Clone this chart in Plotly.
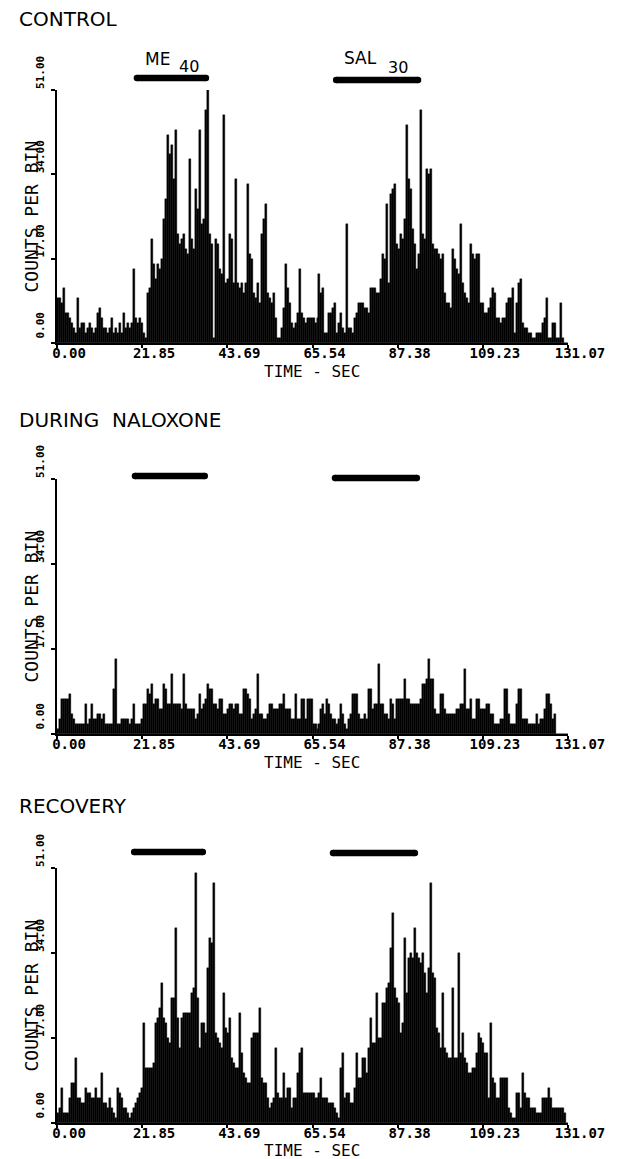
import plotly.graph_objects as go

# ---------------- data ----------------
BIN_WIDTH = 0.512          # seconds per bin (256 bins over 131.07 s)
X_MAX = 131.07
X_TICKS = [0, 21.845, 43.69, 65.535, 87.38, 109.225, 131.07]
X_TICK_TEXT = ["0.00", "21.85", "43.69", "65.54", "87.38", "109.23", "131.07"]
Y_TICKS = [0, 17, 34, 51]
Y_TICK_TEXT = ["0.00", "17.00", "34.00", "51.00"]

panel_titles = ["CONTROL", "DURING  NALOXONE", "RECOVERY"]

control = [
    9, 9, 8, 11, 6, 6, 5, 4, 3, 2,
    9, 3, 4, 4, 2, 3, 4, 3, 2, 3,
    6, 7, 5, 3, 3, 2, 3, 5, 2, 3,
    2, 4, 2, 6, 3, 4, 3, 4, 15, 5,
    4, 5, 4, 2, 1, 10, 11, 21, 16, 13,
    16, 15, 17, 25, 29, 42, 38, 40, 33, 43,
    22, 20, 21, 22, 19, 18, 37, 21, 19, 31,
    27, 43, 24, 25, 47, 51, 22, 20, 1, 21,
    20, 15, 14, 46, 12, 13, 22, 21, 12, 33,
    12, 11, 12, 10, 12, 32, 18, 17, 10, 9,
    12, 8, 22, 25, 28, 10, 9, 8, 10, 5,
    1, 1, 3, 7, 16, 11, 8, 4, 3, 4,
    6, 15, 6, 5, 4, 5, 5, 5, 5, 4,
    5, 14, 10, 11, 2, 2, 6, 6, 7, 8,
    2, 4, 6, 3, 2, 24, 3, 3, 2, 5,
    6, 8, 8, 8, 7, 7, 6, 11, 11, 11,
    10, 10, 13, 18, 17, 28, 12, 30, 31, 32,
    20, 19, 22, 21, 25, 44, 33, 31, 23, 20,
    15, 18, 47, 22, 21, 35, 34, 35, 20, 19,
    19, 18, 17, 18, 10, 8, 8, 7, 19, 17,
    15, 14, 24, 12, 10, 9, 8, 20, 18, 17,
    18, 18, 8, 8, 6, 6, 7, 9, 11, 10,
    5, 5, 4, 5, 5, 8, 9, 9, 11, 2,
    8, 12, 13, 4, 3, 3, 2, 2, 1, 1,
    2, 2, 2, 4, 5, 9, 1, 1, 4, 4,
    1, 1, 8, 1, 0, 0,
]

naloxone = [
    1, 3, 7, 7, 7, 7, 8, 4, 3, 2,
    2, 2, 2, 2, 6, 2, 3, 6, 3, 3,
    4, 4, 3, 4, 2, 2, 2, 2, 9, 15,
    2, 2, 3, 3, 3, 3, 2, 3, 6, 2,
    2, 2, 3, 6, 6, 9, 8, 10, 6, 7,
    7, 5, 5, 10, 9, 6, 6, 12, 6, 6,
    6, 6, 5, 12, 6, 5, 5, 5, 5, 3,
    4, 8, 5, 6, 7, 10, 9, 9, 6, 6,
    5, 7, 7, 4, 4, 5, 6, 6, 5, 6,
    6, 4, 4, 9, 9, 8, 7, 3, 4, 5,
    12, 4, 4, 3, 3, 4, 6, 6, 5, 5,
    5, 6, 6, 8, 5, 5, 5, 3, 3, 8,
    3, 3, 7, 7, 3, 7, 7, 7, 2, 2,
    1, 2, 5, 6, 4, 7, 6, 4, 3, 3,
    2, 3, 6, 4, 2, 1, 3, 4, 8, 8,
    8, 4, 3, 3, 4, 3, 9, 9, 5, 6,
    6, 14, 6, 6, 4, 4, 3, 7, 6, 3,
    7, 7, 7, 7, 11, 7, 7, 6, 6, 6,
    6, 6, 7, 10, 10, 11, 15, 11, 11, 5,
    4, 4, 8, 8, 5, 4, 4, 4, 4, 4,
    5, 5, 6, 6, 13, 5, 5, 7, 3, 3,
    7, 7, 5, 5, 5, 6, 6, 4, 4, 2,
    2, 2, 3, 3, 9, 9, 4, 2, 2, 2,
    6, 9, 9, 3, 3, 3, 2, 2, 2, 2,
    4, 2, 3, 3, 5, 8, 8, 6, 3, 4,
    0, 0, 0, 0, 0, 0,
]

recovery = [
    2, 3, 7, 2, 2, 2, 5, 8, 8, 13,
    5, 5, 4, 4, 7, 6, 6, 5, 5, 7,
    5, 5, 10, 4, 4, 3, 5, 3, 2, 1,
    7, 6, 5, 3, 3, 2, 1, 2, 3, 4,
    5, 6, 7, 20, 11, 11, 11, 11, 12, 20,
    21, 23, 28, 21, 20, 17, 16, 25, 25, 39,
    21, 15, 21, 22, 22, 22, 22, 26, 27, 50,
    25, 15, 20, 20, 18, 31, 37, 36, 48, 18,
    17, 16, 15, 26, 19, 18, 21, 13, 12, 11,
    11, 22, 14, 10, 9, 8, 8, 17, 18, 18,
    18, 23, 9, 8, 8, 5, 3, 4, 5, 15,
    6, 5, 5, 10, 5, 7, 7, 3, 5, 5,
    10, 14, 15, 6, 6, 6, 6, 6, 6, 5,
    5, 6, 9, 5, 5, 5, 4, 4, 4, 3,
    2, 1, 11, 14, 5, 6, 6, 4, 4, 7,
    14, 9, 9, 13, 13, 10, 15, 21, 16, 16,
    26, 17, 17, 24, 24, 27, 28, 35, 42, 27,
    25, 24, 18, 20, 37, 26, 33, 34, 33, 39,
    34, 33, 32, 34, 30, 26, 31, 48, 30, 29,
    19, 18, 15, 26, 15, 14, 13, 13, 27, 13,
    13, 34, 14, 18, 13, 12, 10, 10, 11, 11,
    14, 18, 17, 16, 14, 14, 5, 20, 9, 8,
    5, 5, 9, 9, 9, 9, 3, 2, 1, 1,
    6, 6, 3, 10, 6, 5, 5, 3, 3, 3,
    2, 2, 2, 5, 5, 5, 7, 5, 3, 3,
    3, 3, 3, 3, 2, 0,
]

series = [control, naloxone, recovery]

# drug application periods (seconds), per panel: [(start, end), ...]
drug_periods = [
    [(20.5, 38.2), (71.6, 92.6)],
    [(20.0, 37.9), (71.3, 92.3)],
    [(19.8, 37.4), (70.8, 91.8)],
]
drug_names = ["ME", "SAL"]
drug_doses = ["40", "30"]

# ---------------- layout helpers ----------------
W, H = 622, 1159
OFF = 8   # the page body margin shifts the figure by this many pixels
def px_x(p):
    return (p - OFF) / W
def px_y(p):
    return 1 - (p - OFF) / H

PLOT_LEFT, PLOT_RIGHT = 57, 568
def px_to_time(p):
    return (p - PLOT_LEFT) / (PLOT_RIGHT - PLOT_LEFT) * X_MAX

panels_px = [(90, 343), (479, 734), (868, 1123)]   # (top of 51, baseline)
title_y = [19, 420, 806]
time_title_gap = [28, 28, 27]
bar_y = [(78, 80), (476, 478), (852, 853)]
name_px = [(143, 59), (342, 58)]     # left x, centre y of drug name
dose_px = [(177, 66), (386, 67)]     # left x, centre y of dose

MONO = "DejaVu Sans Mono"
SANS = "DejaVu Sans"

fig = go.Figure()
annotations = []
shapes = []

for k in range(3):
    vals = series[k]
    centers = [BIN_WIDTH * (i + 0.5) for i in range(len(vals))]
    xa = "x" if k == 0 else f"x{k+1}"
    ya = "y" if k == 0 else f"y{k+1}"
    fig.add_trace(go.Bar(
        x=centers, y=vals, width=BIN_WIDTH,
        marker=dict(color="black", line=dict(color="black", width=0.4)),
        xaxis=xa, yaxis=ya, showlegend=False, hoverinfo="skip",
    ))
    top, base = panels_px[k]
    xkey = "xaxis" if k == 0 else f"xaxis{k+1}"
    ykey = "yaxis" if k == 0 else f"yaxis{k+1}"
    fig.update_layout(**{
        xkey: dict(
            domain=[px_x(PLOT_LEFT), px_x(PLOT_RIGHT)], anchor=ya, automargin=False,
            range=[0, X_MAX], tickmode="array", tickvals=X_TICKS, ticktext=X_TICK_TEXT,
            showline=True, linecolor="black", linewidth=1.5,
            ticks="outside", ticklen=3, tickwidth=1.5, tickcolor="black",
            ticklabelshift=12, ticklabelstandoff=-7,
            tickfont=dict(family=MONO, size=14, color="black", weight="bold"),
            showgrid=False, zeroline=False, fixedrange=True,
        ),
        ykey: dict(
            domain=[px_y(base), px_y(top)], anchor=xa, automargin=False,
            range=[0, 51], tickmode="array", tickvals=Y_TICKS, ticktext=Y_TICK_TEXT,
            showline=True, linecolor="black", linewidth=1.5,
            ticks="outside", ticklen=4, tickwidth=1.5, tickcolor="black",
            tickangle=-90, ticklabelshift=-16, ticklabelstandoff=3,
            tickfont=dict(family=MONO, size=11, color="black", weight="bold"),
            showgrid=False, zeroline=False, fixedrange=True,
        ),
    })
    # panel title
    annotations.append(dict(
        text=panel_titles[k], xref="paper", yref="paper",
        x=px_x(17), y=px_y(title_y[k]), xanchor="left", yanchor="middle",
        showarrow=False, font=dict(family=SANS, size=20, color="black"),
    ))
    # axis titles
    annotations.append(dict(
        text="COUNTS PER BIN", xref="paper", yref="paper",
        x=px_x(31), y=px_y((top + base) / 2), xanchor="center", yanchor="middle",
        textangle=-90, showarrow=False, font=dict(family=MONO, size=18, color="black"),
    ))
    annotations.append(dict(
        text="TIME - SEC", xref="paper", yref="paper",
        x=px_x(312), y=px_y(base + time_title_gap[k]), xanchor="center", yanchor="middle",
        showarrow=False, font=dict(family=MONO, size=16, color="black"),
    ))
    # drug application bars
    for j, (s, e) in enumerate(drug_periods[k]):
        yb = px_y(bar_y[k][j])
        shapes.append(dict(type="line", xref=xa, yref="paper", x0=s, x1=e, y0=yb, y1=yb,
                           line=dict(color="black", width=6.5)))
        for xc in (s, e):
            shapes.append(dict(type="circle", xref=xa, yref="paper",
                               xsizemode="pixel", ysizemode="pixel",
                               xanchor=xc, yanchor=yb, x0=-3.25, x1=3.25, y0=-3.25, y1=3.25,
                               fillcolor="black", line=dict(width=0)))
        if k == 0:
            annotations.append(dict(
                text=drug_names[j], xref=xa, yref="paper",
                x=px_to_time(name_px[j][0]), y=px_y(name_px[j][1]),
                xanchor="left", yanchor="middle", showarrow=False,
                font=dict(family=SANS, size=17, color="black"),
            ))
            annotations.append(dict(
                text=drug_doses[j], xref=xa, yref="paper",
                x=px_to_time(dose_px[j][0]), y=px_y(dose_px[j][1]),
                xanchor="left", yanchor="middle", showarrow=False,
                font=dict(family=SANS, size=16, color="black"),
            ))

fig.update_layout(
    width=W, height=H, margin=dict(l=0, r=0, t=0, b=0, autoexpand=False),
    paper_bgcolor="white", plot_bgcolor="white",
    bargap=0, showlegend=False,
    annotations=annotations, shapes=shapes,
)

fig.write_html("out.html")
